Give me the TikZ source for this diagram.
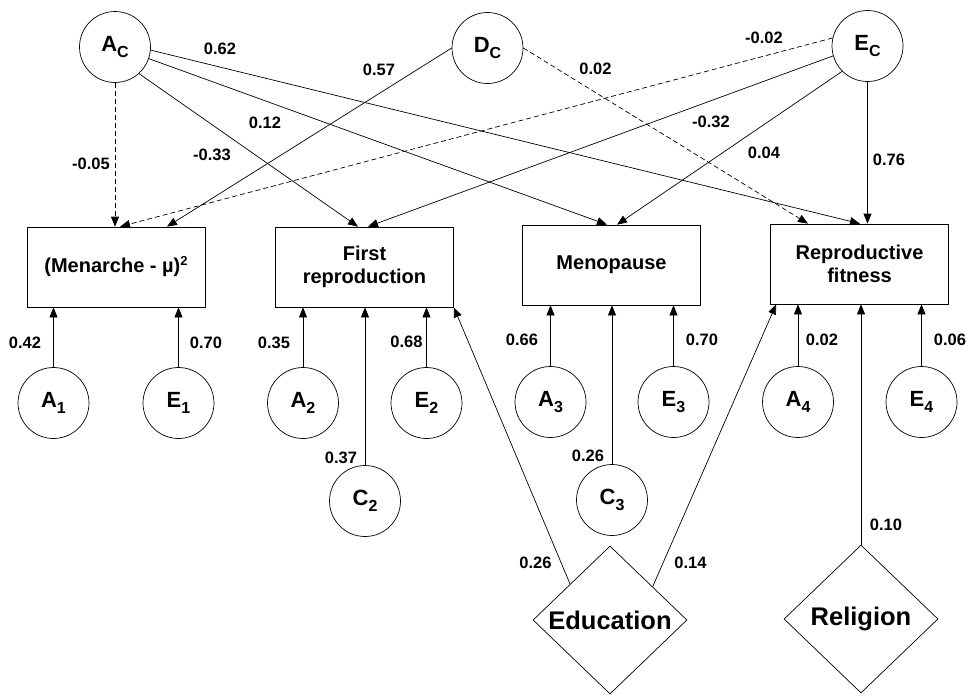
\documentclass[tikz,border=0pt]{standalone}
\usepackage{fontspec}
\setmainfont{Liberation Sans}
\usetikzlibrary{arrows.meta,shapes.geometric,calc}
\newcommand{\lvar}[2]{#1\raisebox{-6pt}{\fontsize{16}{16}\selectfont #2}}
\begin{document}
\begin{tikzpicture}[x=1pt,y=-1pt,
  latent/.style={circle,draw,line width=0.7pt,minimum size=71pt,inner sep=0pt,font=\fontsize{22}{24}\selectfont\bfseries},
  obs/.style={rectangle,draw,line width=0.7pt,minimum width=178pt,minimum height=80pt,align=center,inner sep=0pt,font=\fontsize{20}{23}\selectfont\bfseries},
  cov/.style={diamond,draw,line width=0.7pt,minimum width=154pt,minimum height=148pt,inner sep=0pt,font=\fontsize{25.5}{27}\selectfont\bfseries},
  coef/.style={inner sep=0pt,font=\fontsize{16.5}{18}\selectfont\bfseries},
  arr/.style={-{Triangle[length=10pt,width=8pt]},line width=0.7pt},
  darr/.style={arr,dash pattern=on 5pt off 3pt}]
\useasboundingbox (0,0) rectangle (968,694);
% latent top
\node[latent] (AC) at (115,47) {\lvar{A}{C}};
\node[latent] (DC) at (487.5,48) {\lvar{D}{C}};
\node[latent] (EC) at (867.5,46) {\lvar{E}{C}};
% boxes
\node[obs] (b1) at (116,267) {(Menarche - µ)\raisebox{7pt}{\fontsize{13}{13}\selectfont 2}};
\node[obs] (b2) at (364.5,267) {First\\reproduction};
\node[obs] (b3) at (611.5,265) {Menopause};
\node[obs] (b4) at (859.5,264) {Reproductive\\fitness};
% bottom latents
\node[latent] (A1) at (53.5,403) {\lvar{A}{1}};
\node[latent] (E1) at (178.5,403) {\lvar{E}{1}};
\node[latent] (A2) at (303,403) {\lvar{A}{2}};
\node[latent] (E2) at (426.5,403) {\lvar{E}{2}};
\node[latent] (A3) at (550.5,402) {\lvar{A}{3}};
\node[latent] (E3) at (673.5,402) {\lvar{E}{3}};
\node[latent] (A4) at (798,402) {\lvar{A}{4}};
\node[latent] (E4) at (921.5,402) {\lvar{E}{4}};
\node[latent] (C2) at (365,501) {\lvar{C}{2}};
\node[latent] (C3) at (612,500) {\lvar{C}{3}};
% covariates
\node[cov] (Edu) at (610,620) {Education};
\node[cov] (Rel) at (861,619) {Religion};
% top paths
\draw[darr] (AC.south) -- (AC.south |- b1.north);
\draw[arr] (DC.west) -- ([xshift=51pt]b1.north);
\draw[darr] (EC.167) -- ([xshift=4pt]b1.north);
\draw[arr] (AC.-48) -- ([xshift=-6.5pt]b2.north);
\draw[arr] (EC.196) -- ([xshift=3.5pt]b2.north);
\draw[arr] (AC.-19) -- ([xshift=-4.5pt]b3.north);
\draw[arr] (EC.225) -- ([xshift=5.5pt]b3.north);
\draw[arr] (AC.-5) -- ([xshift=0.5pt]b4.north);
\draw[darr] (DC.east) -- ([xshift=-51.5pt]b4.north);
\draw[arr] (EC.south) -- (EC.south |- b4.north);
% bottom paths
\draw[arr] (A1.north) -- (A1.north |- b1.south);
\draw[arr] (E1.north) -- (E1.north |- b1.south);
\draw[arr] (A2.north) -- (A2.north |- b2.south);
\draw[arr] (E2.north) -- (E2.north |- b2.south);
\draw[arr] (C2.north) -- (C2.north |- b2.south);
\draw[arr] (A3.north) -- (A3.north |- b3.south);
\draw[arr] (E3.north) -- (E3.north |- b3.south);
\draw[arr] (C3.north) -- (C3.north |- b3.south);
\draw[arr] (A4.north) -- (A4.north |- b4.south);
\draw[arr] (E4.north) -- (E4.north |- b4.south);
\draw[arr] (Edu.138) -- (b2.south east);
\draw[arr] (Edu.38) -- ([xshift=6pt]b4.south west);
\draw[arr] (Rel.north) -- (Rel.north |- b4.south);
% coefficients
\node[coef] (c1) at (91,164) {-0.05};
\node[coef] (c2) at (220,49) {0.62};
\node[coef] (c3) at (379,69.5) {0.57};
\node[coef] (c4) at (265,123) {0.12};
\node[coef] (c5) at (212,155) {-0.33};
\node[coef] (c6) at (595.5,69) {0.02};
\node[coef] (c7) at (764,37.5) {-0.02};
\node[coef] (c8) at (711,121.5) {-0.32};
\node[coef] (c9) at (764,153) {0.04};
\node[coef] (c10) at (889,160) {0.76};
\node[coef] (c11) at (25,342.5) {0.42};
\node[coef] (c12) at (206,342.5) {0.70};
\node[coef] (c13) at (274,342.5) {0.35};
\node[coef] (c14) at (406.5,341.5) {0.68};
\node[coef] (c15) at (341,458) {0.37};
\node[coef] (c16) at (522,340) {0.66};
\node[coef] (c17) at (702,340) {0.70};
\node[coef] (c18) at (588,455.5) {0.26};
\node[coef] (c19) at (822,340) {0.02};
\node[coef] (c20) at (950,340) {0.06};
\node[coef] (c21) at (535.5,562.5) {0.26};
\node[coef] (c22) at (690.5,562.5) {0.14};
\node[coef] (c23) at (886,525) {0.10};
\end{tikzpicture}
\end{document}
